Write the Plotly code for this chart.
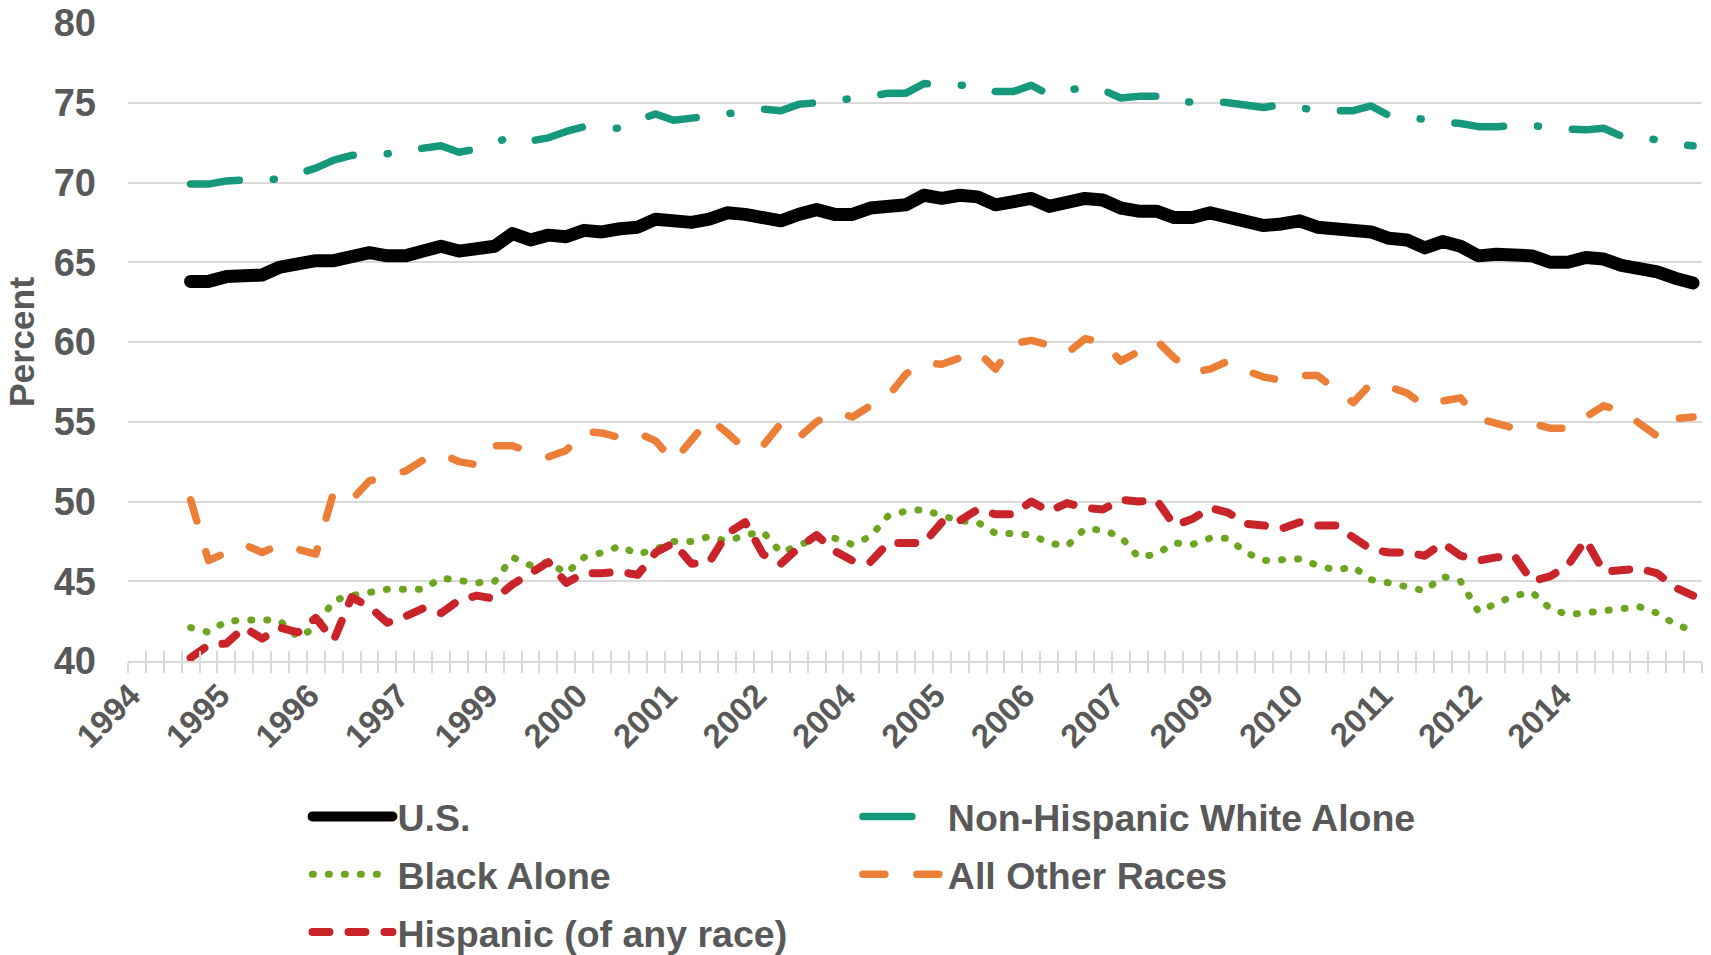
''' Homeownership rates by race and ethnicity, quarterly '''
import plotly.graph_objects as go

# axis categories: 1994Q1 .. 2015Q4, the series start on the fourth one
quarters = [f'{y}Q{q}' for y in range(1994, 2016) for q in range(1, 5)]
first = 3

tick_years = ['1994', '1995', '1996', '1997', '1999', '2000', '2001', '2002', '2004',
              '2005', '2006', '2007', '2009', '2010', '2011', '2012', '2014']

us = [63.8, 63.8, 64.1, 64.2, 64.2, 64.7, 65.0, 65.1, 65.1, 65.4, 65.6, 65.4,
      65.4, 65.7, 66.0, 65.7, 65.9, 66.0, 66.8, 66.4, 66.7, 66.6, 67.0, 66.9,
      67.1, 67.2, 67.7, 67.5, 67.5, 67.7, 68.1, 68.0, 67.8, 67.6, 68.0, 68.3,
      68.0, 68.0, 68.4, 68.6, 68.6, 69.2, 69.0, 69.2, 69.1, 68.6, 68.8, 69.0,
      68.5, 68.7, 69.0, 68.9, 68.4, 68.2, 68.2, 67.8, 67.8, 68.1, 67.9, 67.5,
      67.3, 67.4, 67.6, 67.2, 67.1, 66.9, 66.9, 66.5, 66.4, 65.9, 66.3, 66.0,
      65.4, 65.5, 65.5, 65.4, 65.0, 65.0, 65.3, 65.2, 64.8, 64.7, 64.4, 64.0,
      63.7]

white = [69.9, 69.9, 70.1, 70.2, 70.2, 70.2, 70.5, 70.9, 71.4, 71.7,
         71.8, 71.8, 72.0, 72.1, 72.3, 71.9, 72.1, 72.5, 72.9, 72.6,
         72.8, 73.2, 73.5, 73.4, 73.4, 73.9, 74.3, 73.9, 74.0, 74.1,
         74.3, 74.5, 74.6, 74.5, 74.9, 75.0, 75.1, 75.3, 75.4, 75.6,
         75.6, 76.2, 76.1, 76.1, 76.1, 75.7, 75.7, 76.1, 75.5, 75.8,
         76.0, 75.8, 75.3, 75.4, 75.4, 75.0, 75.1, 75.1, 75.0, 74.8,
         74.7, 74.9, 74.7, 74.5, 74.5, 74.5, 74.8, 74.2, 74.1, 73.9,
         73.8, 73.7, 73.5, 73.5, 73.6, 73.6, 73.4, 73.3, 73.3, 73.4,
         72.9, 72.9, 72.6, 72.4, 72.3]

black = [42.1, 41.8, 42.5, 42.6, 42.6, 42.5, 41.5, 42.1, 43.8, 44.1,
         44.3, 44.5, 44.5, 44.5, 45.2, 45.1, 44.9, 45.0, 46.5, 46.0,
         46.2, 45.5, 46.5, 46.8, 47.2, 46.7, 47.0, 47.5, 47.5, 47.8,
         47.5, 47.9, 48.1, 46.8, 47.3, 47.7, 47.7, 47.3, 47.8, 49.1,
         49.4, 49.5, 49.1, 48.8, 48.7, 48.0, 48.0, 47.9, 47.4, 47.2,
         48.3, 48.2, 47.8, 46.5, 46.7, 47.4, 47.3, 47.7, 47.7, 46.8,
         46.3, 46.4, 46.4, 46.0, 45.7, 45.9, 45.1, 44.9, 44.7, 44.4,
         45.3, 45.0, 43.1, 43.6, 44.1, 44.3, 43.3, 42.9, 43.0, 43.1,
         43.3, 43.4, 43.0, 42.3, 41.9]

other = [50.1, 46.3, 46.8, 47.3, 46.8, 47.3, 47.0, 46.7, 50.6, 50.1,
         51.3, 51.6, 51.9, 52.6, 53.0, 52.5, 52.3, 53.5, 53.5, 53.1,
         52.8, 53.2, 54.4, 54.3, 54.0, 54.3, 53.8, 52.5, 53.9, 55.2,
         54.3, 53.3, 53.5, 54.9, 54.0, 55.0, 55.6, 55.3, 56.0, 56.6,
         58.0, 58.7, 58.6, 59.0, 59.4, 58.3, 59.9, 60.1, 59.8, 59.3,
         60.2, 60.0, 58.8, 59.4, 60.1, 59.0, 58.1, 58.3, 58.8, 58.2,
         57.8, 57.6, 57.9, 57.9, 57.1, 56.2, 57.4, 57.2, 56.8, 56.0,
         56.3, 56.5, 55.2, 54.9, 54.6, 54.9, 54.6, 54.6, 55.3, 56.0,
         55.7, 54.9, 54.1, 55.2, 55.3]

hispanic = [40.2, 41.0, 41.1, 42.1, 41.4, 42.1, 41.8, 42.7, 41.3, 44.0,
            43.4, 42.4, 42.8, 43.3, 43.0, 43.8, 44.1, 43.9, 44.8, 45.5,
            46.2, 44.9, 45.5, 45.5, 45.6, 45.4, 46.8, 47.4, 46.1, 46.2,
            48.0, 48.7, 46.7, 46.1, 47.1, 47.9, 46.9, 46.3, 46.2, 47.4,
            47.4, 47.4, 48.7, 48.8, 49.5, 49.2, 49.2, 50.0, 49.4, 49.9,
            49.6, 49.5, 50.1, 50.0, 50.1, 48.5, 48.9, 49.6, 49.3, 48.6,
            48.5, 48.3, 48.7, 48.5, 48.5, 47.8, 47.0, 46.8, 46.8, 46.6,
            47.4, 46.6, 46.3, 46.5, 46.6, 45.0, 45.3, 46.0, 47.6, 45.6,
            45.7, 45.8, 45.5, 44.6, 44.1]

text_color = '#595959'
grid_color = '#D9D9D9'
font_family = 'Liberation Sans, Arial, sans-serif'

pos = list(range(len(quarters)))
x = pos[first:first + len(us)]
edges = [p - 0.5 for p in pos] + [pos[-1] + 0.5]
# rotated year labels sit a little left of the category centre
label_pos = [p - 0.35 for p in pos[0:len(tick_years) * 5:5]]
xrange = [edges[0], edges[-1]]

fig = go.Figure()

# drawn in the same order as the source chart
fig.add_trace(go.Scatter(
    x=x, y=us, name='U.S.', mode='lines', xaxis='x2',
    line=dict(color='#000000', width=13),
    legend='legend', legendgroup='us'
))
fig.add_trace(go.Scatter(
    x=x, y=white, name='Non-Hispanic White Alone', mode='lines',
    line=dict(color='#16987C', width=7.5, dash='49px,34px,1px,34px'),
    legend='legend2', legendgroup='white'
))
fig.add_trace(go.Scatter(
    x=x, y=black, name='Black Alone', mode='lines',
    line=dict(color='#6DA523', width=7, dash='1px,15px'),
    legend='legend', legendgroup='black'
))
fig.add_trace(go.Scatter(
    x=x, y=other, name='All Other Races', mode='lines',
    line=dict(color='#EB7F37', width=7.5, dash='22px,32px'),
    legend='legend2', legendgroup='other'
))
fig.add_trace(go.Scatter(
    x=x, y=hispanic, name='Hispanic (of any race)', mode='lines',
    line=dict(color='#C8242A', width=8, dash='17px,19px'),
    legend='legend', legendgroup='hispanic'
))

legend_style = dict(
    orientation='v',
    traceorder='grouped',
    tracegroupgap=6,
    itemwidth=80,
    yanchor='top',
    xanchor='left',
    bgcolor='rgba(0,0,0,0)',
    font=dict(family=font_family, size=37.5, color=text_color, weight='bold')
)

fig.update_layout(
    width=1711,
    height=955,
    margin=dict(l=128, r=9, t=23, b=294, autoexpand=False),
    plot_bgcolor='white',
    paper_bgcolor='white',
    showlegend=True,
    font=dict(family=font_family, color=text_color),
    xaxis=dict(
        range=xrange,
        tickmode='array',
        tickvals=label_pos,
        ticktext=tick_years,
        tickangle=-45,
        ticks='',
        tickfont=dict(family=font_family, size=33, color=text_color, weight='bold'),
        minor=dict(tickmode='array', tickvals=edges, ticks='outside', ticklen=10,
                   tickwidth=1.5, tickcolor=grid_color, showgrid=False),
        showgrid=False,
        zeroline=False,
        showline=True,
        linecolor=grid_color,
        linewidth=2,
        automargin=False
    ),
    xaxis2=dict(
        range=xrange,
        overlaying='x',
        anchor='y',
        side='bottom',
        tickmode='array',
        tickvals=edges,
        ticks='inside',
        ticklen=10,
        tickwidth=1.5,
        tickcolor=grid_color,
        showticklabels=False,
        showgrid=False,
        zeroline=False,
        showline=False,
        automargin=False
    ),
    yaxis=dict(
        range=[40, 80],
        dtick=5,
        ticks='',
        ticklabelstandoff=31,
        tickfont=dict(family=font_family, size=38, color=text_color, weight='bold'),
        showgrid=True,
        gridcolor=grid_color,
        gridwidth=1.5,
        zeroline=False,
        showline=False,
        automargin=False,
        title=dict(text='Percent', standoff=8,
                   font=dict(family=font_family, size=35.5, color=text_color, weight='bold'))
    ),
    legend=dict(legend_style, x=0.114, y=-0.1953),
    legend2=dict(legend_style, x=0.4637, y=-0.1953)
)

# round line ends like the source chart, and no page margin
css = 'body{margin:0} path.js-line{stroke-linecap:round;stroke-linejoin:round}'
post = "var s=document.createElement('style');s.textContent='" + css + "';document.head.appendChild(s);"

fig.write_html('out.html', post_script=post, config={'displayModeBar': False})
